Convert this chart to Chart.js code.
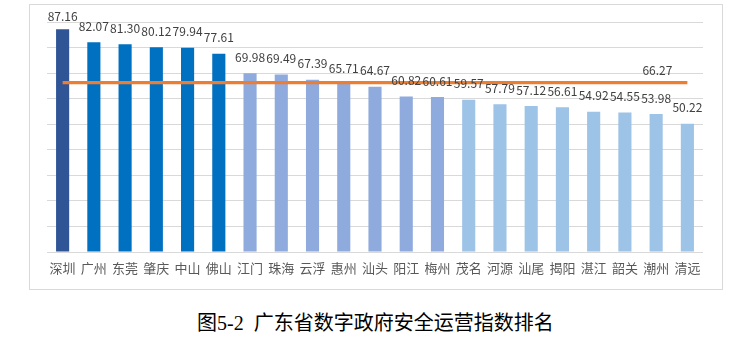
<!DOCTYPE html>
<html>
<head>
<meta charset="utf-8">
<script src="https://cdn.jsdelivr.net/npm/chart.js@4/dist/chart.umd.min.js"></script>
<style>
  html, body { margin: 0; padding: 0; background: #fff; width: 752px; height: 357px; overflow: hidden; }
  #frame { position: absolute; left: 29px; top: 4px; width: 694px; height: 286px; box-sizing: border-box; border: 1px solid #d9d9d9; }
  #c { position: absolute; left: 0; top: 0; }
  #caption { position: absolute; left: 197px; top: 310px; font-family: "Liberation Serif", "Noto Sans CJK SC", serif; font-size: 20px; color: #000; white-space: pre; line-height: 26px; }
</style>
</head>
<body>
<div id="frame"><canvas id="c" width="692" height="284"></canvas></div>
<div id="caption">图5-2  广东省数字政府安全运营指数排名</div>
<script>
const cities = ["深圳","广州","东莞","肇庆","中山","佛山","江门","珠海","云浮","惠州","汕头","阳江","梅州","茂名","河源","汕尾","揭阳","湛江","韶关","潮州","清远"];
const scores = [87.16, 82.07, 81.30, 80.12, 79.94, 77.61, 69.98, 69.49, 67.39, 65.71, 64.67, 60.82, 60.61, 59.57, 57.79, 57.12, 56.61, 54.92, 54.55, 53.98, 50.22];
const averageScore = 66.27;
const averageLine = cities.map(() => averageScore);
const groupColors = ["#2F5597", "#0070C0", "#8FAADC", "#9DC3E6"];
const groupOf = [0,1,1,1,1,1,2,2,2,2,2,2,2,3,3,3,3,3,3,3,3];
const yMin = 0, yMax = 90, yStep = 10;

const labelPlugin = {
  id: 'valueLabels',
  afterDatasetsDraw(chart) {
    const ctx = chart.ctx;
    ctx.save();
    ctx.font = '12px "Noto Sans CJK SC", "DejaVu Sans", sans-serif';
    ctx.fillStyle = '#404040';
    ctx.textAlign = 'center';
    ctx.textBaseline = 'middle';
    const bars = chart.getDatasetMeta(0).data;
    bars.forEach((bar, i) => {
      const y = Math.max(bar.y - 16, 11);
      ctx.fillText(scores[i].toFixed(2), bar.x, y);
    });
    const pts = chart.getDatasetMeta(1).data;
    const last = pts[pts.length - 1];
    ctx.fillText(averageScore.toFixed(2), last.x - 30, last.y - 12);
    ctx.restore();
  }
};

new Chart(document.getElementById('c'), {
  data: {
    labels: cities,
    datasets: [
      {
        type: 'bar',
        data: scores,
        backgroundColor: groupOf.map(g => groupColors[g]),
        categoryPercentage: 1,
        barPercentage: 0.42,
        order: 2
      },
      {
        type: 'line',
        data: averageLine,
        borderColor: '#ED7D31',
        borderWidth: 3.2,
        pointRadius: 0,
        fill: false,
        order: 1
      }
    ]
  },
  options: {
    responsive: false,
    devicePixelRatio: 1,
    animation: false,
    layout: { padding: { left: 17, right: 19, top: 17, bottom: 0 } },
    plugins: { legend: { display: false }, tooltip: { enabled: false } },
    scales: {
      x: {
        grid: { display: false, drawTicks: false },
        border: { display: false },
        ticks: {
          color: '#595959',
          font: { family: '"Noto Sans CJK SC", sans-serif', size: 13 },
          padding: 8,
          maxRotation: 0,
          autoSkip: false
        },
        afterFit(scale) { scale.height = 37; }
      },
      y: {
        min: yMin, max: yMax,
        ticks: { display: false, stepSize: yStep },
        grid: { color: '#d9d9d9', lineWidth: 1, drawTicks: false },
        border: { display: false },
        afterFit(scale) { scale.width = 0; }
      }
    }
  },
  plugins: [labelPlugin]
});
</script>
</body>
</html>
